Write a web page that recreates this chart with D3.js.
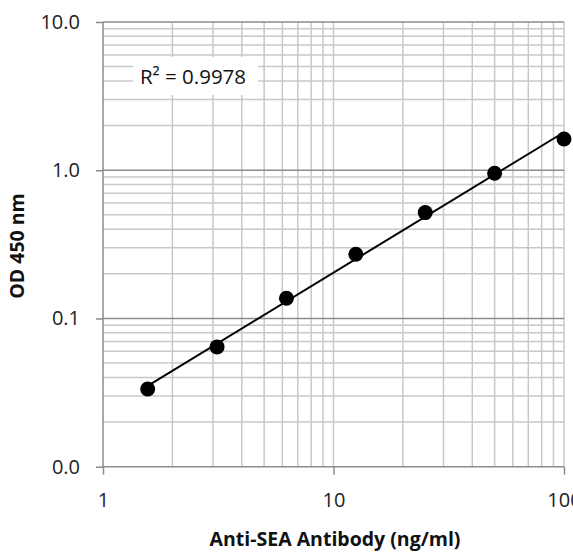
<!DOCTYPE html>
<html><head><meta charset="utf-8">
<script src="https://cdn.jsdelivr.net/npm/d3@7"></script>
<style>
html,body{margin:0;padding:0;background:#fff;}
svg text{font-family:"Open Sans","Liberation Sans",sans-serif;}
</style></head>
<body>
<svg id="chart" width="573" height="552"></svg>
<script>
const concentrations = [1.5625, 3.125, 6.25, 12.5, 25, 50, 100];
const odValues = [0.0334, 0.0643, 0.137, 0.271, 0.518, 0.954, 1.626];
const xTickValues = [1, 10, 100];
const yTickValues = [0.01, 0.1, 1, 10];
const yTickLabels = ["0.0", "0.1", "1.0", "10.0"];
const rSquaredLabel = "R² = 0.9978";
const xTitle = "Anti-SEA Antibody (ng/ml)";
const yTitle = "OD 450 nm";

(function () {
const svg = d3.select("#chart");
const pL = 103, pR = 564, pT = 22, pB = 466.7;
const x = d3.scaleLog().domain([1, 100]).range([pL, pR]);
const y = d3.scaleLog().domain([0.01, 10]).range([pB, pT]);

const minorX = [], minorY = [];
for (const d of [1, 10]) for (let k = 2; k <= 9; k++) minorX.push(d * k);
for (const d of [0.01, 0.1, 1]) for (let k = 2; k <= 9; k++) minorY.push(d * k);

const grid = svg.append("g");
grid.selectAll(".vx").data(minorX.concat([10, 100])).enter().append("line")
  .attr("x1", d => x(d)).attr("x2", d => x(d)).attr("y1", pT).attr("y2", pB)
  .attr("stroke", "#c8c8c8").attr("stroke-width", 1.5);
grid.selectAll(".hy").data(minorY).enter().append("line")
  .attr("x1", pL).attr("x2", pR).attr("y1", d => y(d)).attr("y2", d => y(d))
  .attr("stroke", "#c8c8c8").attr("stroke-width", 1.5);
grid.selectAll(".hmaj").data([0.1, 1, 10]).enter().append("line")
  .attr("x1", pL).attr("x2", pR).attr("y1", d => y(d)).attr("y2", d => y(d))
  .attr("stroke", "#8c8c8c").attr("stroke-width", 1.5);

const yAxis = d3.axisLeft(y).tickValues(yTickValues)
  .tickFormat((d, i) => yTickLabels[i]).tickSize(7).tickPadding(16);
const gy = svg.append("g").attr("transform", `translate(${pL},0)`).call(yAxis);
const xAxis = d3.axisBottom(x).tickValues(xTickValues)
  .tickFormat(d3.format("d")).tickSize(8).tickPadding(18);
const gx = svg.append("g").attr("transform", `translate(0,${pB})`).call(xAxis);
[gx, gy].forEach(g => {
  g.select(".domain").attr("stroke", "#8c8c8c").attr("stroke-width", 1.5);
  g.selectAll(".tick line").attr("stroke", "#8c8c8c").attr("stroke-width", 1.5);
  g.selectAll(".tick text").attr("fill", "#222").style("font-size", "20px")
   .style("font-family", "'Open Sans','Liberation Sans',sans-serif");
});
gx.select(".domain").attr("d", `M${pL},0H${pR}`);
gy.select(".domain").attr("d", `M0,${pB}V${pT}`);

const lx = concentrations.map(Math.log10), ly = odValues.map(Math.log10);
const mx = d3.mean(lx), my = d3.mean(ly);
const slope = d3.sum(lx.map((v, i) => (v - mx) * (ly[i] - my))) / d3.sum(lx.map(v => (v - mx) ** 2));
const icpt = my - slope * mx;
const xs = [concentrations[0], concentrations[concentrations.length - 1]];
svg.append("path")
  .datum(xs)
  .attr("d", d3.line().x(d => x(d)).y(d => y(Math.pow(10, icpt + slope * Math.log10(d)))))
  .attr("stroke", "#000").attr("stroke-width", 2).attr("fill", "none");

svg.selectAll(".pt").data(concentrations).enter().append("circle")
  .attr("cx", d => x(d)).attr("cy", (d, i) => y(odValues[i]))
  .attr("r", 7.5).attr("fill", "#000");

svg.append("rect").attr("x", 133).attr("y", 57).attr("width", 125).attr("height", 38).attr("fill", "#fff");
svg.append("text").attr("x", 193).attr("y", 84).attr("text-anchor", "middle")
  .style("font-size", "20.5px").attr("fill", "#111").text(rSquaredLabel);

svg.append("text").attr("x", 335).attr("y", 546).attr("text-anchor", "middle")
  .style("font-size", "19.5px").style("font-weight", "bold").attr("fill", "#111").text(xTitle);
svg.append("text").attr("transform", "translate(24,246) rotate(-90)").attr("text-anchor", "middle")
  .style("font-size", "19.5px").style("font-weight", "bold").attr("fill", "#111").text(yTitle);
})();
</script>
</body></html>
